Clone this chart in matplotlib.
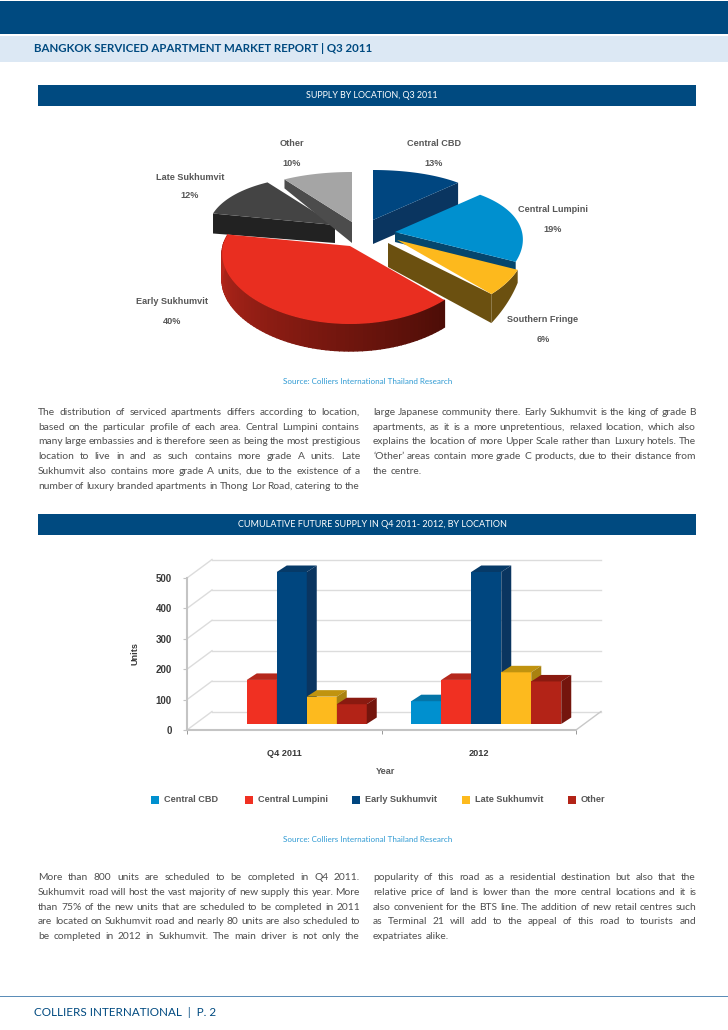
#!/usr/bin/env python3
"""Page from the Bangkok serviced apartment report: 3D style pie and bars."""

import numpy as np
import matplotlib
matplotlib.use('Agg')
import matplotlib.pyplot as plt
from matplotlib.colors import to_rgb
from matplotlib.patches import Rectangle

# pie data
pie_names = ['Central CBD', 'Central Lumpini', 'Southern Fringe',
             'Early Sukhumvit', 'Late Sukhumvit', 'Other']
pie_shares = [13, 19, 6, 40, 12, 10]

# bar data
bar_years = ['Q4 2011', '2012']
bar_names = ['Central CBD', 'Central Lumpini', 'Early Sukhumvit', 'Late Sukhumvit', 'Other']
bar_q4_2011 = [0, 145, 500, 90, 65]
bar_2012 = [75, 145, 500, 170, 140]
bar_ticks = [0, 100, 200, 300, 400, 500]

# page text, one entry per printed line
text_1_left = [
    "The distribution of serviced apartments differs according to location,",
    "based on the particular profile of each area. Central Lumpini contains",
    "many large embassies and is therefore seen as being the most prestigious",
    "location to live in and as such contains more grade A units. Late",
    "Sukhumvit also contains more grade A units, due to the existence of a",
    "number of luxury branded apartments in Thong Lor Road, catering to the",
]
text_1_right = [
    "large Japanese community there. Early Sukhumvit is the king of grade B",
    "apartments, as it is a more unpretentious, relaxed location, which also",
    "explains the location of more Upper Scale rather than Luxury hotels. The",
    "\u2018Other\u2019 areas contain more grade C products, due to their distance from",
    "the centre.",
]
text_2_left = [
    "More than 800 units are scheduled to be completed in Q4 2011.",
    "Sukhumvit road will host the vast majority of new supply this year. More",
    "than 75% of the new units that are scheduled to be completed in 2011",
    "are located on Sukhumvit road and nearly 80 units are also scheduled to",
    "be completed in 2012 in Sukhumvit. The main driver is not only the",
]
text_2_right = [
    "popularity of this road as a residential destination but also that the",
    "relative price of land is lower than the more central locations and it is",
    "also convenient for the BTS line. The addition of new retail centres such",
    "as Terminal 21 will add to the appeal of this road to tourists and",
    "expatriates alike.",
]

NAVY = '#004a80'
LABEL = '#3a3a3a'
BODY = '#4f4f4f'
BODY_FONT = ['Lato', 'DejaVu Sans']
CHART_FONT = ['Liberation Sans', 'DejaVu Sans']

fig = plt.figure(figsize=(7.28, 10.3), dpi=100)
page = fig.add_axes([0, 0, 1, 1])
page.set_xlim(0, 728)
page.set_ylim(1030, 0)
page.axis('off')


def band(x0, y0, x1, y1, color):
    page.add_patch(Rectangle((x0, y0), x1 - x0, y1 - y0, color=color, lw=0))


def justified(lines, x0, x1, y_first, step=14.75, size=7.4):
    """Write lines word by word so both edges line up, last line left alone."""
    renderer = fig.canvas.get_renderer()
    for n, line in enumerate(lines):
        y = y_first + n * step
        words = line.split(' ')
        items = [page.text(x0, y, w, fontsize=size, family=BODY_FONT, color=BODY, va='center')
                 for w in words]
        widths = [t.get_window_extent(renderer).width for t in items]
        gap = (x1 - x0 - sum(widths)) / (len(words) - 1)
        if n == len(lines) - 1 and line.endswith(('centre.', 'alike.')):
            gap = 2.8
        x = x0
        for t, w in zip(items, widths):
            t.set_x(x)
            x += w + gap


# page furniture
band(0, 1, 728, 34, NAVY)
band(0, 36, 728, 62, '#dce8f4')
band(38, 85, 696, 106, NAVY)
band(38, 514, 696, 535, NAVY)
band(0, 995.5, 728, 997, '#5b8db8')
page.text(34, 49, 'BANGKOK SERVICED APARTMENT MARKET REPORT | Q3 2011', fontsize=8.25,
          family='Lato', weight='bold', color=NAVY, va='center')
page.text(372, 95.5, 'SUPPLY BY LOCATION, Q3 2011', fontsize=6.4, family='Lato',
          color='white', va='center', ha='center')
page.text(372, 524.5, 'CUMULATIVE FUTURE SUPPLY IN Q4 2011- 2012, BY LOCATION', fontsize=6.5,
          family='Lato', color='white', va='center', ha='center')
page.text(34, 1013, 'COLLIERS INTERNATIONAL  |  P. 2', fontsize=8.35, family='Lato',
          color=NAVY, va='center')
for y in (381, 839):
    page.text(368, y, 'Source: Colliers International Thailand Research', fontsize=5.75,
              family='Lato', color='#2f9ad3', va='center', ha='center')

justified(text_1_left, 38, 360, 412.5)
justified(text_1_right, 373, 696, 412.5)
justified(text_2_left, 38, 360, 877.5)
justified(text_2_right, 373, 696, 877.5)

# pie, drawn flat on the page with a slanted perspective
pie_apex = [(373, 220), (395, 232), (397, 240), (350, 246), (335, 225), (352, 222)]
pie_top = ['#004680', '#0090cf', '#fdb91d', '#e92e20', '#444444', '#a5a5a5']
pie_wall = ['#0a3560', '#05466d', '#6b5010', '#b8261b', '#222222', '#4c4c4c']
pie_depth = [24, 10, 29, 27, 18, 21]
label_pos = [(434, 144), (553, 210), (543, 320), (172, 302), (190, 177), (292, 144)]


def rim(apex, a0, a1, n=80):
    angles = np.radians(np.linspace(a0, a1, n))
    s = np.sin(angles)
    x = apex[0] + (127 - 15 * s) * np.cos(angles)
    y = apex[1] - (64 - 14 * s) * s
    return x, y


edges = 90 - 3.6 * np.concatenate([[0], np.cumsum(pie_shares)])
# back slices first, the big red one last so it covers the walls behind it
for i in [4, 5, 0, 1, 2, 3]:
    ax_, ay_ = pie_apex[i]
    x, y = rim(pie_apex[i], edges[i], edges[i + 1])
    d = pie_depth[i]
    if i == 3:
        # outer wall with the light falling off to the right
        light = np.array(to_rgb('#c0291d'))
        dark = np.array(to_rgb('#4d0d07'))
        for k in range(len(x) - 1):
            c = dark + (light - dark) * k / (len(x) - 2)
            page.fill([x[k], x[k + 1], x[k + 1], x[k]],
                      [y[k], y[k + 1], y[k + 1] + d, y[k] + d], color=c, lw=1)
    elif i == 4:
        page.fill([x[0], ax_, ax_, x[0]], [y[0], ay_, ay_ + d, y[0] + d + 2], color=pie_wall[i], lw=0)
    elif i == 5:
        page.fill([x[0], ax_, ax_, x[0]], [y[0], ay_, ay_ + d, y[0] + 9], color=pie_wall[i], lw=0)
    elif i == 2:
        # short wall under the arc, then the long cut face
        taper = np.linspace(13, d, len(x))
        page.fill(np.r_[x, x[::-1]], np.r_[y, (y + taper)[::-1]], color=pie_wall[i], lw=0)
        page.fill([388, x[-1], x[-1], 388], [243, y[-1], y[-1] + d, 267], color=pie_wall[i], lw=0)
    else:
        page.fill([ax_, x[-1], x[-1], ax_], [ay_, y[-1], y[-1] + d, ay_ + d], color=pie_wall[i], lw=0)
    page.fill(np.r_[ax_, x], np.r_[ay_, y], color=pie_top[i], lw=0)

for name, share, (lx, ly) in zip(pie_names, pie_shares, label_pos):
    page.text(lx, ly, name, fontsize=6.6, family=CHART_FONT, weight='bold', color=LABEL,
              ha='center', va='center', alpha=0.85)
    page.text(lx, ly + 19, f'{share}%', fontsize=6.6, family=CHART_FONT, weight='bold',
              color=LABEL, ha='center', va='center', alpha=0.85)

# bars, in their own axes with the real unit scale
ax = fig.add_axes([187 / 728, (1030 - 730) / 1030, (610 - 187) / 728, 190 / 1030])
ax.patch.set_visible(False)
px_x = 1 / 194.5   # one pixel in category units
px_y = 500 / 152   # one pixel in bar units
ax.set_xlim(-0.5, -0.5 + 423 * px_x)
ax.set_ylim(0, 190 * px_y)

bar_front = ['#0090cf', '#f03022', '#00467f', '#fdba1e', '#b32317']
bar_top = ['#0475a8', '#b5281c', '#063a68', '#c0930f', '#8a1a10']
bar_side = ['#046a98', '#a0221a', '#0a3560', '#a98210', '#74150d']

# back wall and its links to the axis
floor_dx, floor_dy = 25 * px_x, 18.5 * px_y
for v in bar_ticks:
    ax.plot([-0.5, -0.5 + floor_dx], [v, v + floor_dy], color='#dcdcdc', lw=1, clip_on=False)
    ax.plot([-0.5 + floor_dx, 1.5 + floor_dx], [v + floor_dy, v + floor_dy], color='#dcdcdc', lw=1,
            clip_on=False)
ax.plot([1.5, 1.5 + floor_dx], [0, floor_dy], color='#c8c8c8', lw=1, clip_on=False)

bar_w = 30 * px_x
depth_x, depth_y = 10 * px_x, 6.5 * px_y
base = 6 * px_y
for g, values in enumerate([bar_q4_2011, bar_2012]):
    for j, v in enumerate(values):
        if v == 0:
            continue
        x0 = g + 7.5 * px_x + (j - 2.5) * bar_w
        ax.bar(x0, v, bar_w, bottom=base, align='edge', color=bar_front[j], lw=0, zorder=3)
        top = base + v
        ax.fill([x0, x0 + bar_w, x0 + bar_w + depth_x, x0 + depth_x],
                [top, top, top + depth_y, top + depth_y], color=bar_top[j], lw=0, zorder=3,
                clip_on=False)
        ax.fill([x0 + bar_w, x0 + bar_w + depth_x, x0 + bar_w + depth_x, x0 + bar_w],
                [base, base + depth_y, top + depth_y, top], color=bar_side[j], lw=0, zorder=3,
                clip_on=False)

for side in ('top', 'right'):
    ax.spines[side].set_visible(False)
ax.spines['left'].set_bounds(0, 500)
ax.spines['bottom'].set_bounds(-0.5, 1.5)
for side in ('left', 'bottom'):
    ax.spines[side].set_color('#c4c4c4')
    ax.spines[side].set_linewidth(1.5)
ax.set_yticks(bar_ticks)
ax.set_xticks([0, 1])
ax.set_xticklabels(bar_years)
ax.set_xticks([-0.5, 0.5, 1.5], minor=True)
ax.tick_params(axis='y', length=3, color='#c4c4c4', pad=8, labelsize=7, labelcolor=LABEL)
ax.tick_params(axis='x', which='major', length=0, pad=14, labelsize=6.6, labelcolor=LABEL)
ax.tick_params(axis='x', which='minor', length=3, color='#888888')
for t in ax.get_xticklabels() + ax.get_yticklabels():
    t.set_family(CHART_FONT)
    t.set_weight('bold')
page.text(386, 771, 'Year', fontsize=6.6, family=CHART_FONT, weight='bold', color=LABEL,
          ha='center', va='center', alpha=0.85)
page.text(135, 654, 'Units', fontsize=6.6, family=CHART_FONT, weight='bold', color=LABEL,
          ha='center', va='center', rotation=90)

legend_x = [151, 245, 352, 462, 568]
for name, c, lx in zip(bar_names, bar_front, legend_x):
    page.add_patch(Rectangle((lx, 796), 8, 8, color=c, lw=0))
    page.text(lx + 13, 799, name, fontsize=6.6, family=CHART_FONT, weight='bold', color=LABEL,
              va='center', alpha=0.85)

fig.savefig('out.png', dpi=100)
